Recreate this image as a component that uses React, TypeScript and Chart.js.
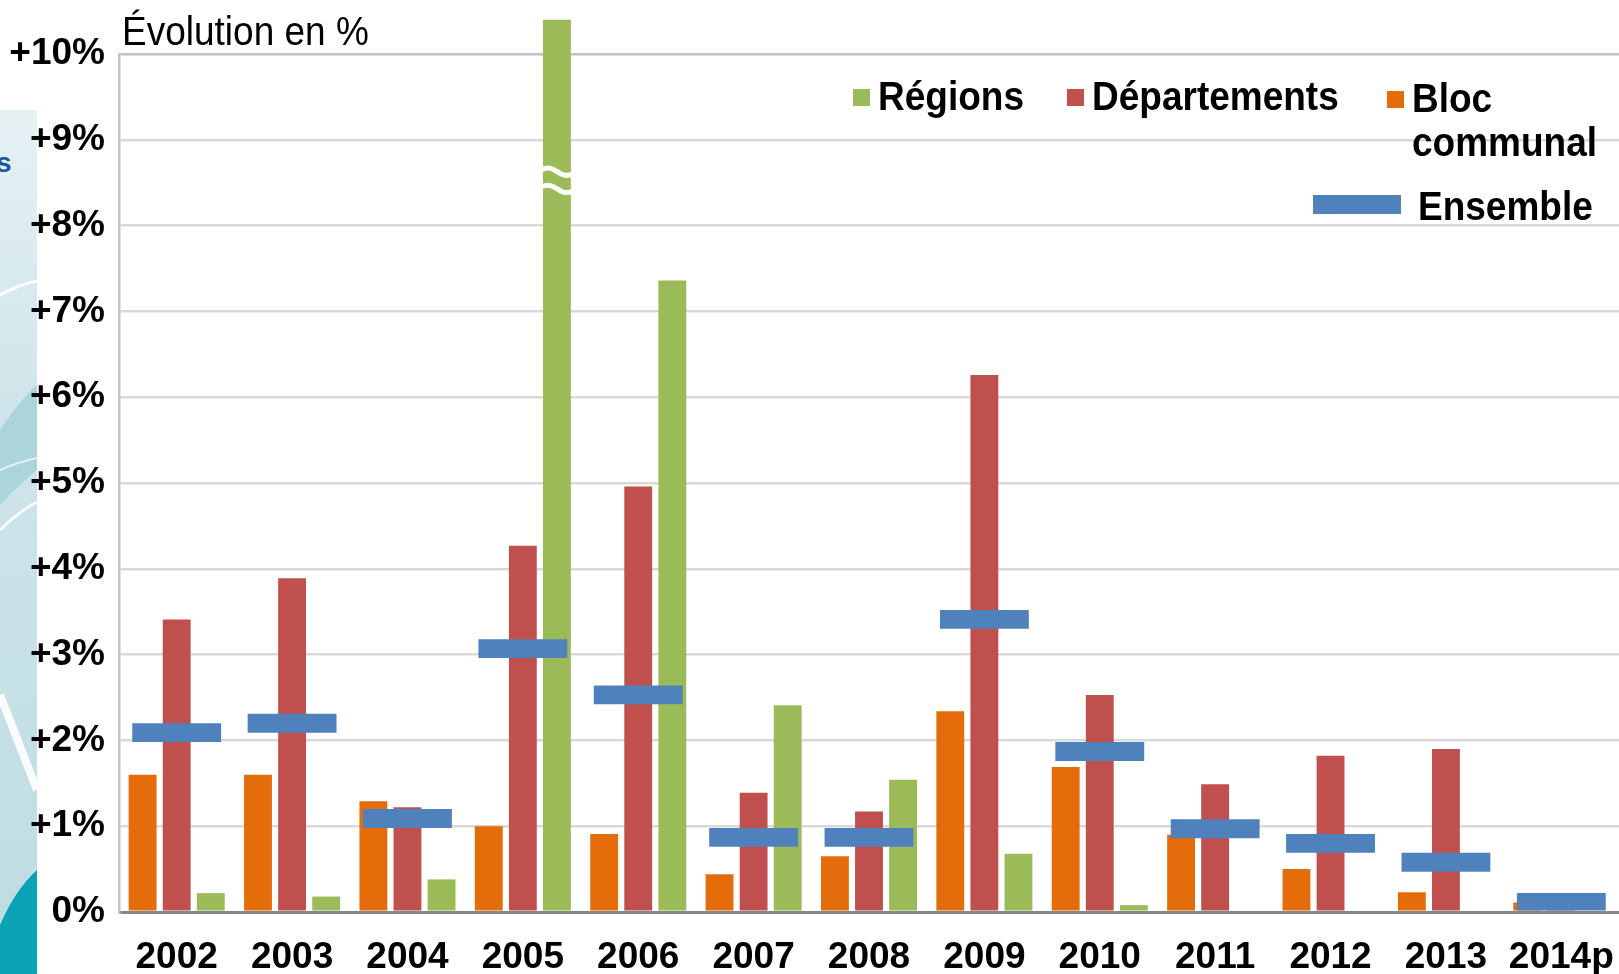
import React, { useEffect, useRef } from 'react';
import { Chart, registerables } from 'chart.js';

Chart.register(...registerables);

// ---- Data (percent change per year) ----
const categories = ['2002', '2003', '2004', '2005', '2006', '2007', '2008', '2009', '2010', '2011', '2012', '2013', '2014p'];
const blocCommunal = [1.60, 1.60, 1.29, 1.00, 0.91, 0.44, 0.65, 2.34, 1.69, 0.90, 0.50, 0.23, 0.11];
const departements = [3.41, 3.89, 1.22, 4.27, 4.96, 1.39, 1.17, 6.26, 2.53, 1.49, 1.82, 1.90, 0.03];
const regions = [0.22, 0.18, 0.38, 10.4, 7.36, 2.41, 1.54, 0.68, 0.08, 0, 0, 0, 0];
const ensemble = [2.09, 2.20, 1.09, 3.07, 2.53, 0.87, 0.87, 3.41, 1.87, 0.97, 0.80, 0.58, 0.11];
const yTickLabels = ['0%', '+1%', '+2%', '+3%', '+4%', '+5%', '+6%', '+7%', '+8%', '+9%', '+10%'];
const seriesNames = ['Bloc communal', 'Départements', 'Régions', 'Ensemble'];

const ORANGE = '#E46C0A';
const RED = '#C0504D';
const GREEN = '#9BBB59';
const BLUE = '#4F81BD';
const FONT = "'Liberation Sans', Arial, sans-serif";

// half-thickness (in % units) of the "Ensemble" marker bars
const MARK_HALF = 0.11;

function stretchedText(ctx: CanvasRenderingContext2D, text: string, x: number, y: number, weight: string, size: number) {
  ctx.save();
  ctx.translate(x, y);
  ctx.scale(1, 1.1);
  ctx.font = `${weight} ${size}px ${FONT}`;
  ctx.textAlign = 'left';
  ctx.textBaseline = 'alphabetic';
  ctx.fillStyle = '#000';
  ctx.fillText(text, 0, 0);
  ctx.restore();
}

const breakPlugin = {
  id: 'breakMark',
  afterDatasetsDraw(chart: any) {
    const ctx = chart.ctx as CanvasRenderingContext2D;
    const meta = chart.getDatasetMeta(2);
    const el: any = meta.data[3];
    if (!el) return;
    const yS = chart.scales.y;
    const x0 = el.x - el.width / 2 - 1;
    const x1 = el.x + el.width / 2 + 1;
    ctx.save();
    ctx.strokeStyle = '#ffffff';
    ctx.lineWidth = 5;
    [8.62, 8.42].forEach((v) => {
      const y = yS.getPixelForValue(v);
      ctx.beginPath();
      ctx.moveTo(x0, y - 3);
      ctx.bezierCurveTo(x0 + (x1 - x0) * 0.45, y - 9, x0 + (x1 - x0) * 0.55, y + 7, x1, y + 2);
      ctx.stroke();
    });
    ctx.restore();
  },
};

const overlayPlugin = {
  id: 'overlay',
  afterDraw(chart: any) {
    const ctx = chart.ctx as CanvasRenderingContext2D;
    ctx.save();
    // axis caption
    stretchedText(ctx, 'Évolution en %', 122, 45, 'normal', 37);

    // legend
    ctx.fillStyle = GREEN;
    ctx.fillRect(853, 89, 17, 17);
    stretchedText(ctx, seriesNames[2], 878, 110, 'bold', 37);

    ctx.fillStyle = RED;
    ctx.fillRect(1067, 89, 17, 17);
    stretchedText(ctx, seriesNames[1], 1092, 110, 'bold', 37);

    ctx.fillStyle = ORANGE;
    ctx.fillRect(1387, 91, 17, 17);
    stretchedText(ctx, 'Bloc', 1412, 112, 'bold', 37);
    stretchedText(ctx, 'communal', 1412, 156, 'bold', 37);

    ctx.fillStyle = BLUE;
    ctx.fillRect(1313, 195, 88, 19);
    stretchedText(ctx, seriesNames[3], 1418, 220, 'bold', 37);
    ctx.restore();
  },
};

function LeftStrip() {
  return (
    <svg width={37} height={974} style={{ position: 'absolute', left: 0, top: 0 }}>
      <defs>
        <linearGradient id="stripGrad" x1="0" y1="0" x2="0" y2="1">
          <stop offset="0" stopColor="#e6f1f4" />
          <stop offset="0.35" stopColor="#cfe5ea" />
          <stop offset="1" stopColor="#bcdce2" />
        </linearGradient>
      </defs>
      <rect x={0} y={110} width={37} height={864} fill="url(#stripGrad)" />
      <path d="M0 430 Q20 400 37 385 L37 470 Q18 485 0 505 Z" fill="#a3cfd8" opacity={0.8} />
      <path d="M0 295 Q18 285 37 281" stroke="#ffffff" strokeWidth={3} fill="none" opacity={0.9} />
      <path d="M0 530 Q18 512 37 502" stroke="#ffffff" strokeWidth={3} fill="none" opacity={0.9} />
      <path d="M0 470 Q18 462 37 458" stroke="#ffffff" strokeWidth={2} fill="none" opacity={0.7} />
      <path d="M0 695 L37 790" stroke="#ffffff" strokeWidth={8} fill="none" opacity={0.9} />
      <path d="M0 925 Q15 890 37 870 L37 974 L0 974 Z" fill="#0aa2b4" />
      <text x={-4} y={172} fill="#22579e" fontWeight="bold" fontSize={28} fontFamily={FONT}>s</text>
    </svg>
  );
}

export default function App() {
  const canvasRef = useRef<HTMLCanvasElement | null>(null);

  useEffect(() => {
    if (!canvasRef.current) return;
    const chart = new Chart(canvasRef.current, {
      type: 'bar',
      data: {
        labels: categories,
        datasets: [
          {
            label: seriesNames[0],
            data: blocCommunal,
            backgroundColor: ORANGE,
            order: 1,
            categoryPercentage: 0.886,
            barPercentage: 0.818,
          },
          {
            label: seriesNames[1],
            data: departements,
            backgroundColor: RED,
            order: 1,
            categoryPercentage: 0.886,
            barPercentage: 0.818,
          },
          {
            label: seriesNames[2],
            data: regions,
            backgroundColor: GREEN,
            order: 1,
            clip: false as any,
            categoryPercentage: 0.886,
            barPercentage: 0.818,
          },
          {
            label: seriesNames[3],
            data: ensemble.map((v) => [v - MARK_HALF, v + MARK_HALF]) as any,
            backgroundColor: BLUE,
            order: 0,
            grouped: false,
            categoryPercentage: 1,
            barPercentage: 0.77,
          } as any,
        ],
      },
      options: {
        animation: false,
        responsive: false,
        maintainAspectRatio: false,
        devicePixelRatio: 1,
        events: [],
        layout: { padding: { top: 54, left: 0, right: 0, bottom: 0 } },
        plugins: {
          legend: { display: false },
          tooltip: { enabled: false },
          title: { display: false },
        },
        scales: {
          x: {
            type: 'category',
            offset: true,
            grid: { display: false, drawTicks: false },
            border: { display: true, color: '#868686', width: 3 },
            ticks: {
              color: '#000',
              font: { family: FONT, size: 37, weight: 'bold' },
              padding: 24,
              autoSkip: false,
              maxRotation: 0,
              minRotation: 0,
            },
            afterFit: (scale: any) => {
              scale.height = 62;
              scale.paddingLeft = 0;
              scale.paddingRight = 0;
            },
          },
          y: {
            min: 0,
            max: 10,
            grid: {
              drawTicks: false,
              color: (c: any) => (c.tick && c.tick.value === 10 ? '#c2c2c2' : c.tick && c.tick.value === 0 ? '#868686' : '#d9d9d9'),
              lineWidth: (c: any) => (c.tick && c.tick.value === 0 ? 3 : 2.5),
            },
            border: { display: true, color: '#c4c4c4', width: 2.5 },
            ticks: {
              stepSize: 1,
              autoSkip: false,
              color: '#000',
              padding: 14,
              font: { family: FONT, size: 37, weight: 'bold' },
              callback: (_v: any, i: number) => yTickLabels[i],
            },
            afterFit: (scale: any) => {
              scale.width = 119;
            },
          },
        },
      },
      plugins: [breakPlugin, overlayPlugin],
    } as any);
    return () => chart.destroy();
  }, []);

  return (
    <div
      style={{
        position: 'fixed',
        left: 0,
        top: 0,
        width: 1619,
        height: 974,
        overflow: 'hidden',
        background: '#ffffff',
      }}
    >
      <LeftStrip />
      <canvas
        ref={canvasRef}
        width={1619}
        height={974}
        style={{ position: 'absolute', left: 0, top: 0, width: 1619, height: 974, display: 'block' }}
      />
    </div>
  );
}
